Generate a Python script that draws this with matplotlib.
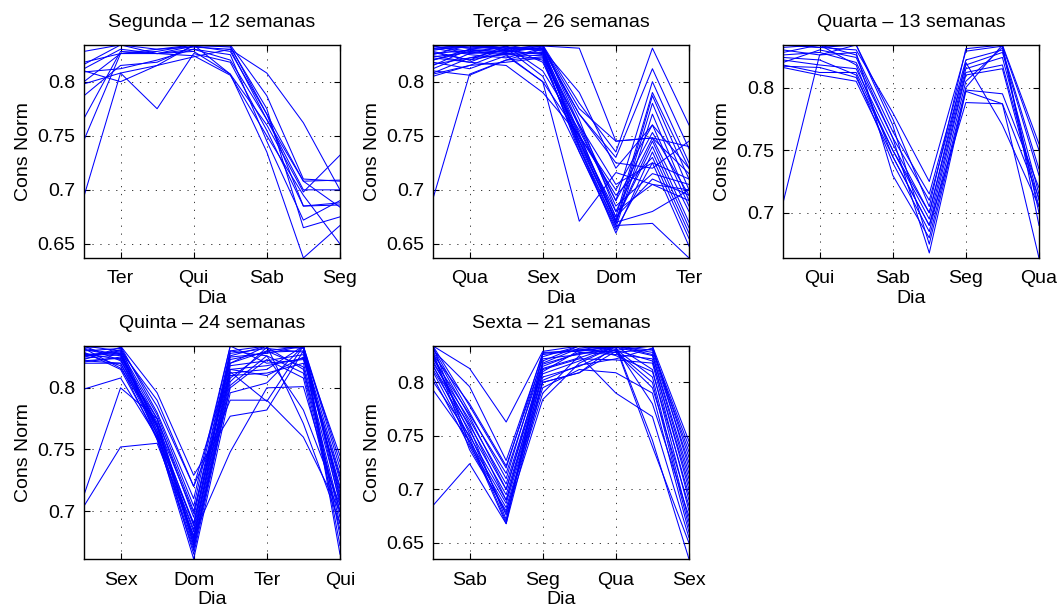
# consumo normalizado por semana, agrupado pelo dia do feriado

import numpy as np
import matplotlib
matplotlib.use('Agg')
import matplotlib.pyplot as plt

plt.rcParams['font.family'] = ['Liberation Sans', 'DejaVu Sans']

dias = ['Seg', 'Ter', 'Qua', 'Qui', 'Sex', 'Sab', 'Dom']
titulos = ['Segunda', 'Terça', 'Quarta', 'Quinta', 'Sexta']

segunda = [
    [0.828, 0.834, 0.830, 0.832, 0.830, 0.808, 0.762, 0.700],
    [0.818, 0.826, 0.828, 0.834, 0.834, 0.787, 0.710, 0.708],
    [0.812, 0.830, 0.826, 0.833, 0.828, 0.770, 0.708, 0.709],
    [0.809, 0.812, 0.820, 0.830, 0.820, 0.765, 0.700, 0.700],
    [0.800, 0.826, 0.826, 0.828, 0.807, 0.760, 0.698, 0.732],
    [0.798, 0.808, 0.775, 0.826, 0.818, 0.755, 0.685, 0.686],
    [0.787, 0.815, 0.818, 0.833, 0.833, 0.770, 0.685, 0.688],
    [0.766, 0.828, 0.826, 0.830, 0.825, 0.745, 0.672, 0.690],
    [0.746, 0.826, 0.830, 0.834, 0.832, 0.775, 0.665, 0.675],
    [0.694, 0.808, 0.815, 0.834, 0.807, 0.735, 0.637, 0.667],
    [0.816, 0.834, 0.826, 0.824, 0.806, 0.750, 0.695, 0.650],
    [0.810, 0.800, 0.815, 0.823, 0.830, 0.765, 0.708, 0.684],
]

terca = [
    [0.692, 0.807, 0.820, 0.830, 0.790, 0.720, 0.760, 0.720],
    [0.805, 0.815, 0.828, 0.833, 0.831, 0.745, 0.748, 0.740],
    [0.808, 0.822, 0.825, 0.800, 0.671, 0.716, 0.705, 0.700],
    [0.815, 0.830, 0.834, 0.834, 0.780, 0.735, 0.831, 0.760],
    [0.820, 0.828, 0.832, 0.830, 0.770, 0.730, 0.812, 0.738],
    [0.825, 0.834, 0.830, 0.834, 0.760, 0.690, 0.800, 0.725],
    [0.830, 0.832, 0.834, 0.828, 0.750, 0.675, 0.790, 0.720],
    [0.833, 0.826, 0.829, 0.825, 0.745, 0.670, 0.787, 0.710],
    [0.828, 0.820, 0.826, 0.820, 0.740, 0.668, 0.780, 0.700],
    [0.822, 0.818, 0.831, 0.805, 0.735, 0.665, 0.770, 0.690],
    [0.818, 0.812, 0.824, 0.800, 0.750, 0.700, 0.760, 0.685],
    [0.812, 0.826, 0.833, 0.810, 0.755, 0.690, 0.753, 0.695],
    [0.834, 0.831, 0.834, 0.834, 0.765, 0.680, 0.748, 0.680],
    [0.826, 0.829, 0.828, 0.826, 0.745, 0.672, 0.745, 0.670],
    [0.831, 0.825, 0.822, 0.831, 0.740, 0.660, 0.735, 0.660],
    [0.824, 0.818, 0.815, 0.790, 0.750, 0.695, 0.730, 0.655],
    [0.810, 0.806, 0.820, 0.823, 0.760, 0.705, 0.725, 0.648],
    [0.820, 0.830, 0.827, 0.832, 0.770, 0.725, 0.720, 0.745],
    [0.829, 0.834, 0.831, 0.829, 0.758, 0.685, 0.715, 0.705],
    [0.833, 0.828, 0.826, 0.827, 0.748, 0.675, 0.710, 0.695],
    [0.816, 0.822, 0.830, 0.833, 0.775, 0.745, 0.748, 0.715],
    [0.807, 0.815, 0.818, 0.822, 0.738, 0.667, 0.669, 0.637],
    [0.827, 0.820, 0.833, 0.818, 0.745, 0.680, 0.705, 0.690],
    [0.831, 0.833, 0.829, 0.831, 0.752, 0.670, 0.680, 0.700],
    [0.823, 0.827, 0.825, 0.824, 0.735, 0.663, 0.725, 0.710],
    [0.834, 0.831, 0.832, 0.830, 0.742, 0.672, 0.740, 0.665],
]

quarta = [
    [0.708, 0.826, 0.834, 0.775, 0.705, 0.831, 0.834, 0.755],
    [0.834, 0.832, 0.830, 0.780, 0.725, 0.829, 0.833, 0.750],
    [0.832, 0.834, 0.826, 0.765, 0.715, 0.822, 0.830, 0.735],
    [0.826, 0.828, 0.820, 0.760, 0.710, 0.818, 0.828, 0.730],
    [0.822, 0.818, 0.815, 0.755, 0.700, 0.815, 0.824, 0.715],
    [0.818, 0.812, 0.812, 0.750, 0.695, 0.812, 0.818, 0.710],
    [0.816, 0.810, 0.805, 0.745, 0.690, 0.810, 0.815, 0.705],
    [0.824, 0.822, 0.810, 0.740, 0.685, 0.805, 0.832, 0.700],
    [0.830, 0.826, 0.828, 0.730, 0.680, 0.800, 0.834, 0.690],
    [0.834, 0.832, 0.834, 0.770, 0.675, 0.798, 0.795, 0.720],
    [0.820, 0.830, 0.824, 0.760, 0.668, 0.797, 0.787, 0.664],
    [0.828, 0.834, 0.818, 0.745, 0.690, 0.788, 0.787, 0.712],
    [0.817, 0.816, 0.808, 0.750, 0.700, 0.820, 0.770, 0.705],
]

quinta = [
    [0.799, 0.808, 0.760, 0.690, 0.820, 0.830, 0.834, 0.740],
    [0.713, 0.800, 0.775, 0.700, 0.815, 0.810, 0.825, 0.720],
    [0.704, 0.752, 0.755, 0.680, 0.748, 0.800, 0.801, 0.700],
    [0.834, 0.834, 0.796, 0.729, 0.777, 0.782, 0.830, 0.745],
    [0.830, 0.832, 0.785, 0.720, 0.790, 0.790, 0.760, 0.700],
    [0.826, 0.830, 0.778, 0.704, 0.834, 0.834, 0.771, 0.690],
    [0.824, 0.827, 0.770, 0.698, 0.830, 0.826, 0.782, 0.705],
    [0.822, 0.824, 0.765, 0.690, 0.826, 0.834, 0.834, 0.735],
    [0.820, 0.820, 0.762, 0.685, 0.823, 0.829, 0.830, 0.730],
    [0.828, 0.818, 0.758, 0.680, 0.818, 0.822, 0.827, 0.725],
    [0.832, 0.816, 0.770, 0.678, 0.815, 0.818, 0.824, 0.718],
    [0.834, 0.822, 0.775, 0.675, 0.812, 0.815, 0.834, 0.712],
    [0.831, 0.826, 0.768, 0.672, 0.810, 0.812, 0.820, 0.708],
    [0.827, 0.829, 0.762, 0.670, 0.808, 0.830, 0.817, 0.700],
    [0.825, 0.831, 0.758, 0.668, 0.805, 0.833, 0.815, 0.695],
    [0.823, 0.833, 0.765, 0.665, 0.802, 0.826, 0.812, 0.690],
    [0.821, 0.825, 0.772, 0.673, 0.800, 0.823, 0.808, 0.685],
    [0.829, 0.815, 0.760, 0.661, 0.796, 0.804, 0.834, 0.680],
    [0.833, 0.834, 0.780, 0.710, 0.834, 0.820, 0.823, 0.728],
    [0.826, 0.828, 0.775, 0.695, 0.828, 0.832, 0.829, 0.715],
    [0.822, 0.820, 0.768, 0.688, 0.825, 0.828, 0.834, 0.705],
    [0.834, 0.830, 0.790, 0.720, 0.820, 0.834, 0.832, 0.672],
    [0.828, 0.823, 0.763, 0.683, 0.813, 0.789, 0.834, 0.710],
    [0.832, 0.827, 0.770, 0.676, 0.830, 0.834, 0.833, 0.665],
]

sexta = [
    [0.685, 0.724, 0.668, 0.800, 0.809, 0.834, 0.834, 0.720],
    [0.834, 0.813, 0.763, 0.829, 0.834, 0.830, 0.834, 0.745],
    [0.830, 0.796, 0.727, 0.826, 0.830, 0.828, 0.831, 0.740],
    [0.826, 0.780, 0.722, 0.822, 0.826, 0.834, 0.828, 0.725],
    [0.822, 0.770, 0.715, 0.818, 0.832, 0.833, 0.825, 0.710],
    [0.818, 0.765, 0.705, 0.815, 0.828, 0.826, 0.822, 0.700],
    [0.815, 0.760, 0.700, 0.812, 0.822, 0.821, 0.818, 0.690],
    [0.812, 0.755, 0.695, 0.808, 0.820, 0.834, 0.812, 0.680],
    [0.801, 0.750, 0.690, 0.805, 0.815, 0.831, 0.805, 0.670],
    [0.793, 0.745, 0.687, 0.800, 0.809, 0.829, 0.800, 0.665],
    [0.834, 0.742, 0.683, 0.795, 0.812, 0.809, 0.790, 0.660],
    [0.828, 0.737, 0.680, 0.790, 0.825, 0.790, 0.768, 0.655],
    [0.824, 0.752, 0.676, 0.784, 0.818, 0.834, 0.746, 0.635],
    [0.820, 0.758, 0.672, 0.810, 0.830, 0.833, 0.740, 0.650],
    [0.816, 0.748, 0.670, 0.820, 0.834, 0.832, 0.780, 0.675],
    [0.810, 0.745, 0.668, 0.827, 0.831, 0.828, 0.795, 0.685],
    [0.832, 0.772, 0.710, 0.824, 0.834, 0.825, 0.810, 0.695],
    [0.829, 0.768, 0.700, 0.817, 0.827, 0.830, 0.820, 0.705],
    [0.825, 0.762, 0.690, 0.813, 0.823, 0.834, 0.826, 0.715],
    [0.805, 0.740, 0.678, 0.802, 0.816, 0.822, 0.832, 0.730],
    [0.834, 0.778, 0.720, 0.828, 0.829, 0.834, 0.830, 0.735],
]

series = [segunda, terca, quarta, quinta, sexta]
y_ticks = [0.65, 0.7, 0.75, 0.8]

# posicoes dos eixos (fração da figura), grade 2x3 tipo subplot do MATLAB
lefts = [0.0793, 0.4089, 0.7394]
bottoms = [0.575, 0.079]
w, h = 0.2417, 0.351
fs = 14

fig = plt.figure(figsize=(10.59, 6.07), dpi=100)

for k, dados in enumerate(series):
    row, col = divmod(k, 3)
    ax = fig.add_axes([lefts[col], bottoms[row], w, h])
    dados = np.array(dados)
    x = np.arange(1, dados.shape[1] + 1)
    for linha in dados:
        ax.plot(x, linha, color='#0000ff', lw=0.75)

    # rotulos do eixo x: dias a partir do dia do feriado
    xt = [2, 4, 6, 8]
    ax.set_xticks(xt)
    ax.set_xticklabels([dias[(k + t - 1) % 7] for t in xt])
    ax.set_yticks(y_ticks)
    ax.set_yticklabels(['%g' % v for v in y_ticks])

    # eixo justo aos dados (axis tight)
    ax.set_xlim(1, 8)
    ax.set_ylim(dados.min(), dados.max())

    ax.grid(True, color='0.1', linestyle=(0, (1.5, 8)), lw=0.6)
    ax.tick_params(direction='in', top=True, right=True, length=4,
                   labelsize=fs)
    ax.tick_params(axis='x', pad=9)
    ax.tick_params(axis='y', pad=6)
    for s in ax.spines.values():
        s.set_linewidth(1.0)

    ax.set_title('%s – %d semanas' % (titulos[k], len(dados)),
                 fontsize=fs, pad=13)
    ax.set_xlabel('Dia', fontsize=fs, labelpad=2)
    ax.set_ylabel('Cons Norm', fontsize=fs, labelpad=4)

fig.savefig('out.png', dpi=100)
